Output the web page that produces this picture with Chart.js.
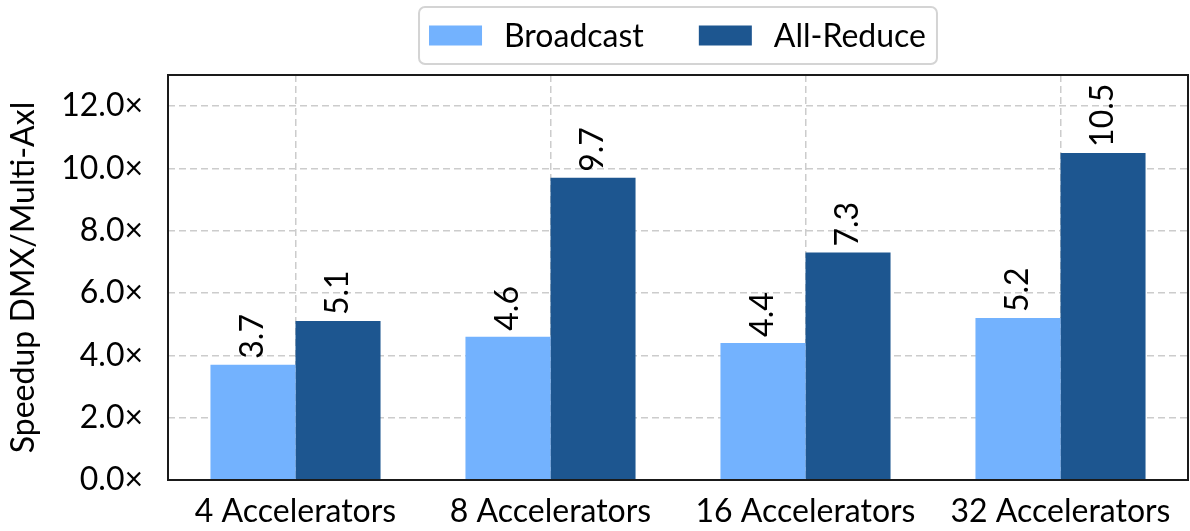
<!DOCTYPE html>
<html>
<head>
<meta charset="utf-8">
<script src="https://cdn.jsdelivr.net/npm/chart.js@4"></script>
<style>
  html, body { margin: 0; padding: 0; background: #fff; }
  #wrap { width: 1190px; height: 531px; }
</style>
</head>
<body>
<div id="wrap"><canvas id="speedup" width="1190" height="531"></canvas></div>
<script>
const categories = ['4 Accelerators', '8 Accelerators', '16 Accelerators', '32 Accelerators'];
const broadcast = [3.7, 4.6, 4.4, 5.2];
const allReduce = [5.1, 9.7, 7.3, 10.5];
const yTicks = [0, 2, 4, 6, 8, 10, 12];

const FONT = 'Lato, "Open Sans", sans-serif';
const FS = 32;

// rotated value labels above each bar
const barLabels = {
  id: 'barLabels',
  afterDatasetsDraw(chart) {
    const ctx = chart.ctx;
    ctx.save();
    ctx.fillStyle = '#000';
    ctx.font = FS + 'px ' + FONT;
    ctx.textAlign = 'left';
    ctx.textBaseline = 'middle';
    chart.data.datasets.forEach((ds, i) => {
      chart.getDatasetMeta(i).data.forEach((bar, j) => {
        ctx.save();
        ctx.translate(bar.x, bar.y - 6);
        ctx.rotate(-Math.PI / 2);
        ctx.fillText(ds.data[j].toFixed(1), 0, 0);
        ctx.restore();
      });
    });
    ctx.restore();
  }
};

// frame around the plot area
const frame = {
  id: 'frame',
  afterDatasetsDraw(chart) {
    const a = chart.chartArea;
    const ctx = chart.ctx;
    ctx.save();
    ctx.strokeStyle = '#1a1a1a';
    ctx.lineWidth = 2;
    ctx.strokeRect(a.left, a.top, a.right - a.left, a.bottom - a.top);
    ctx.restore();
  }
};

// boxed legend centred over the plot
const boxLegend = {
  id: 'boxLegend',
  afterDraw(chart) {
    const ctx = chart.ctx;
    const a = chart.chartArea;
    const patchW = 53, patchH = 20, gapText = 22, gapItem = 55, padL = 10, padR = 11;
    ctx.save();
    ctx.font = FS + 'px ' + FONT;
    const items = chart.data.datasets.map(ds => ({
      label: ds.label, color: ds.backgroundColor, tw: ctx.measureText(ds.label).width
    }));
    let total = padL + padR;
    items.forEach((it, i) => { total += patchW + gapText + it.tw + (i ? gapItem : 0); });
    const x0 = (a.left + a.right) / 2 - total / 2;
    const y0 = 7, h = 57;
    ctx.strokeStyle = '#d4d4d4';
    ctx.lineWidth = 2;
    ctx.beginPath();
    ctx.roundRect(x0, y0, total, h, 6);
    ctx.stroke();
    let x = x0 + padL;
    const cy = y0 + h / 2;
    ctx.textBaseline = 'middle';
    ctx.textAlign = 'left';
    items.forEach((it, i) => {
      if (i) x += gapItem;
      ctx.fillStyle = it.color;
      ctx.fillRect(x, cy - patchH / 2, patchW, patchH);
      x += patchW + gapText;
      ctx.fillStyle = '#000';
      ctx.fillText(it.label, x, cy + 1);
      x += it.tw;
    });
    ctx.restore();
  }
};

const gridStyle = {
  color: '#cccccc',
  lineWidth: 1.5,
  drawTicks: false
};

new Chart(document.getElementById('speedup'), {
  type: 'bar',
  data: {
    labels: categories,
    datasets: [
      { label: 'Broadcast', data: broadcast, backgroundColor: '#73b2fe',
        categoryPercentage: 0.667, barPercentage: 1.0 },
      { label: 'All-Reduce', data: allReduce, backgroundColor: '#1d5690',
        categoryPercentage: 0.667, barPercentage: 1.0 }
    ]
  },
  options: {
    responsive: false,
    animation: false,
    layout: { padding: { top: 75, right: 2, left: 0, bottom: 0 } },
    plugins: {
      legend: { display: false },
      tooltip: { enabled: false }
    },
    scales: {
      x: {
        grid: Object.assign({ offset: false }, gridStyle),
        border: { display: false, dash: [7, 4] },
        ticks: { color: '#000', font: { family: FONT, size: FS }, padding: 12, maxRotation: 0 },
        afterFit(scale) { scale.height = 51; }
      },
      y: {
        min: 0,
        max: 13,
        grid: gridStyle,
        border: { display: false, dash: [7, 4] },
        afterBuildTicks(scale) { scale.ticks = yTicks.map(v => ({ value: v })); },
        ticks: {
          color: '#000',
          font: { family: FONT, size: FS },
          padding: 25,
          callback: v => v.toFixed(1) + '×'
        },
        title: {
          display: true,
          text: 'Speedup DMX/Multi-Axl',
          color: '#000',
          font: { family: FONT, size: FS },
          padding: { top: 4, bottom: 0 }
        },
        afterFit(scale) { scale.width = 168; }
      }
    }
  },
  plugins: [barLabels, frame, boxLegend]
});
</script>
</body>
</html>
